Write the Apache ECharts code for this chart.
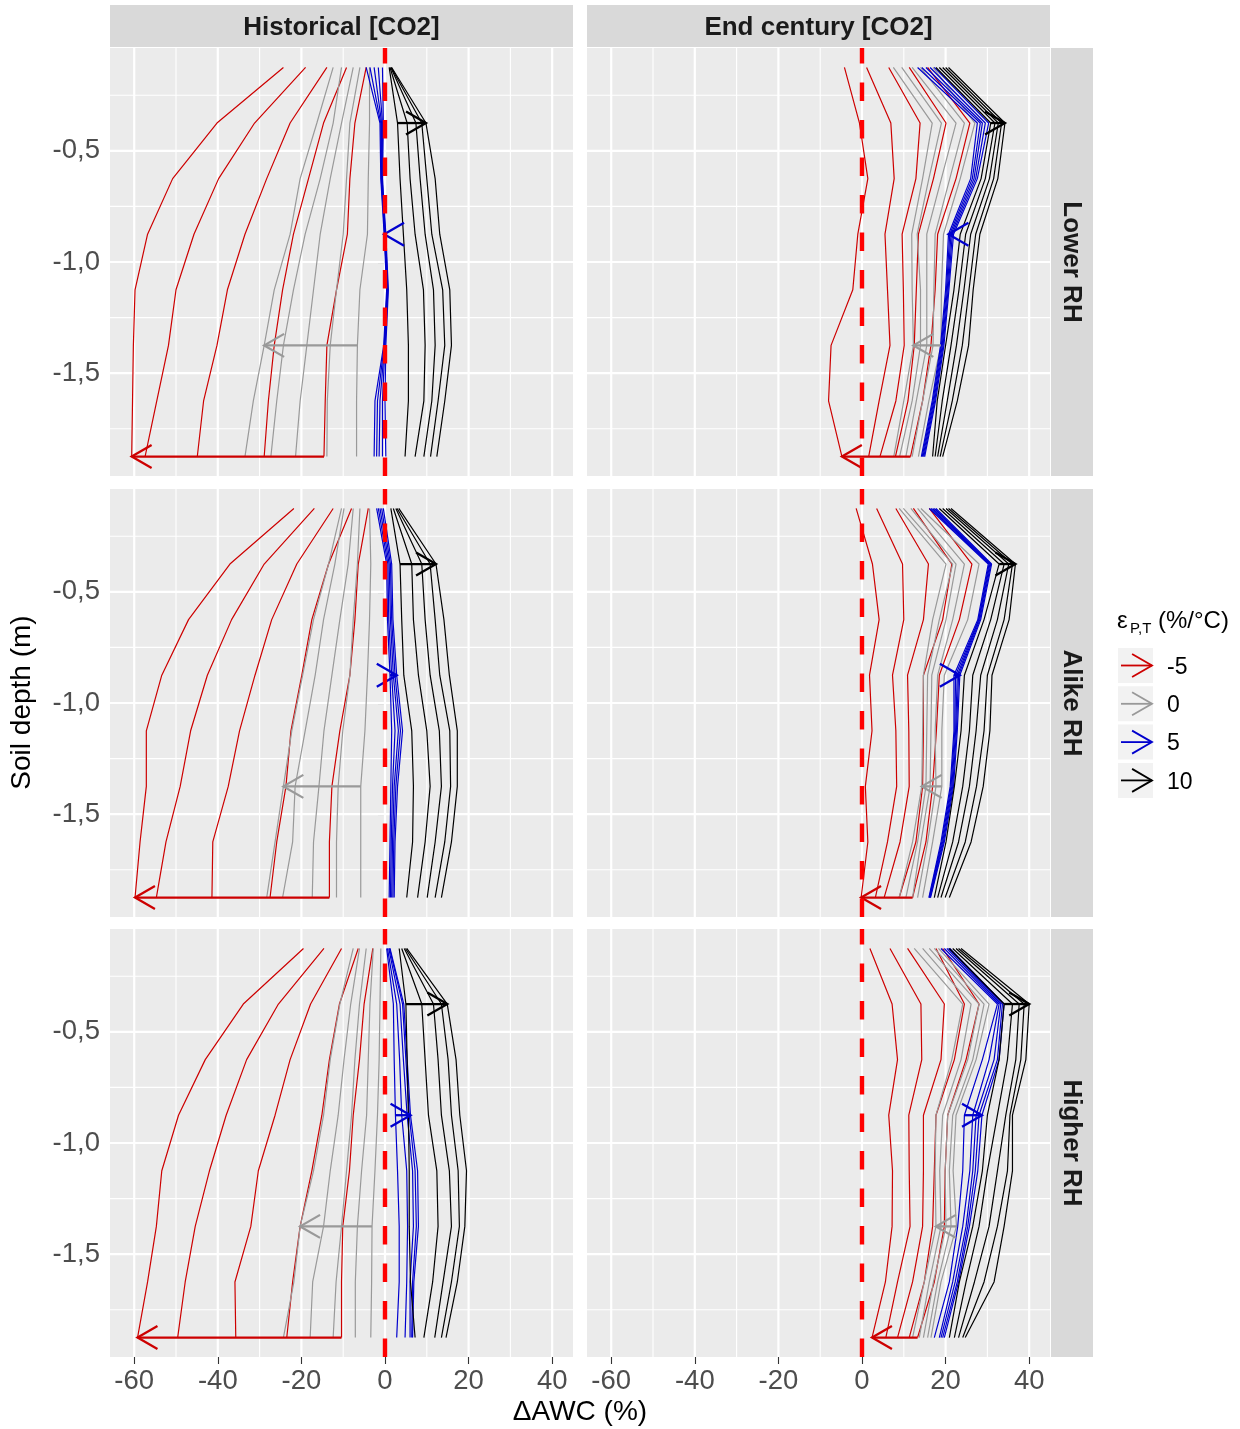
<!DOCTYPE html>
<html>
<head>
<meta charset="utf-8">
<script src="https://cdn.jsdelivr.net/npm/echarts@6.0.0/dist/echarts.min.js"></script>
<style>
html,body{margin:0;padding:0;background:#ffffff;}
#chart{width:1240px;height:1429px;}
</style>
</head>
<body>
<div id="chart"></div>
<script>
// ---------------- DATA ----------------
const depths = [-0.125, -0.375, -0.625, -0.875, -1.125, -1.375, -1.625, -1.875];
const colTitles = ['Historical [CO2]', 'End century [CO2]'];
const rowTitles = ['Lower RH', 'Alike RH', 'Higher RH'];
const legendLabels = ['-5', '0', '5', '10'];
const xTickValues = [-60, -40, -20, 0, 20, 40];
const yTickValues = [-1.5, -1.0, -0.5];
const xGridBreaks = [-60, -50, -40, -30, -20, -10, 0, 10, 20, 30, 40];
const yGridBreaks = [-0.25, -0.5, -0.75, -1.0, -1.25, -1.5, -1.75];
// depth index where each group's arrow is drawn (red, gray, blue, black)
const arrowDepthIndex = [7, 5, 3, 1];

// Each group: 5 profiles (values top -> bottom). Arrow goes from first to last profile.
// ---- Historical, Lower RH ----
const histLowerRed = [
  [-4.5, -7.2, -8.4, -9.0, -11.6, -13.9, -14.3, -14.6],
  [-9.2, -14.7, -18.3, -21.9, -24.5, -26.5, -27.9, -28.9],
  [-13.9, -22.7, -28.3, -33.5, -37.7, -40.2, -43.4, -44.9],
  [-19.0, -31.2, -39.8, -45.7, -50.0, -51.8, -54.6, -57.4],
  [-24.3, -40.2, -50.8, -56.8, -59.8, -60.2, -60.4, -60.6]
];
const histLowerGray = [
  [-3.7, -3.7, -4.0, -4.2, -6.0, -6.6, -6.8, -6.8],
  [-6.0, -8.4, -9.2, -10.0, -11.6, -13.1, -13.8, -13.9],
  [-7.6, -10.4, -13.1, -15.5, -17.1, -18.7, -20.3, -21.4],
  [-10.4, -12.4, -15.5, -19.1, -21.9, -24.3, -25.9, -27.3],
  [-12.4, -16.3, -20.3, -22.7, -26.5, -28.9, -31.5, -33.5]
];
const histLowerBlue = [
  [-0.6, -0.4, -0.6, 0.2, 0.8, 0.2, 0.0, 0.2],
  [-1.6, -0.6, -0.7, 0.1, 0.7, 0.0, -0.6, -0.6],
  [-2.6, -0.8, -0.8, 0.0, 0.6, -0.1, -1.2, -1.4],
  [-3.6, -1.0, -0.9, -0.1, 0.5, -0.2, -1.8, -2.0],
  [-4.5, -1.2, -1.0, -0.2, 0.4, -0.3, -2.4, -2.6]
];
const histLowerBlack = [
  [1.0, 3.0, 3.6, 4.4, 5.2, 5.6, 5.6, 4.8],
  [1.2, 5.3, 6.0, 7.2, 9.2, 9.6, 9.3, 7.2],
  [1.4, 7.4, 8.4, 9.6, 11.6, 12.0, 11.2, 9.3],
  [1.5, 8.8, 10.0, 11.2, 13.8, 14.3, 12.7, 10.9],
  [1.6, 9.8, 12.0, 13.1, 15.5, 15.9, 14.3, 12.4]
];
// ---- End century, Lower RH ----
const endLowerRed = [
  [15.7, 25.8, 22.5, 18.1, 17.5, 16.5, 14.5, 11.6],
  [11.3, 20.1, 17.1, 13.5, 13.0, 12.5, 11.0, 8.0],
  [6.4, 13.9, 12.9, 9.6, 9.9, 10.1, 8.1, 4.3],
  [1.1, 6.9, 7.7, 5.5, 6.1, 6.7, 4.1, 1.6],
  [-4.2, -0.6, 1.4, -1.0, -2.2, -7.4, -8.0, -4.8]
];
const endLowerGray = [
  [17.0, 27.0, 23.5, 19.5, 19.0, 18.9, 16.0, 13.5],
  [14.0, 24.5, 21.0, 17.5, 17.2, 17.0, 14.5, 12.0],
  [12.0, 22.5, 19.0, 15.5, 15.5, 15.5, 13.0, 10.5],
  [9.5, 19.0, 16.0, 13.2, 14.0, 14.0, 12.0, 9.0],
  [7.5, 16.8, 14.5, 11.9, 12.0, 12.3, 10.0, 7.6]
];
const endLowerBlue = [
  [17.3, 30.3, 27.6, 21.9, 20.8, 19.6, 17.6, 15.0],
  [16.3, 29.5, 27.2, 21.6, 20.6, 19.4, 17.4, 14.8],
  [15.3, 28.8, 26.8, 21.3, 20.4, 19.2, 17.2, 14.6],
  [14.3, 28.3, 26.4, 21.0, 20.2, 19.0, 17.0, 14.4],
  [13.3, 27.6, 26.0, 20.7, 20.0, 18.8, 16.8, 14.2]
];
const endLowerBlack = [
  [17.7, 30.8, 28.5, 23.5, 22.0, 20.0, 18.0, 16.9],
  [18.5, 31.8, 29.5, 24.8, 23.2, 21.3, 19.2, 17.5],
  [19.3, 32.6, 30.5, 26.0, 24.4, 22.6, 20.4, 18.1],
  [20.0, 33.4, 31.5, 27.2, 25.6, 24.0, 21.6, 18.7],
  [20.7, 34.2, 32.5, 28.2, 26.6, 25.5, 22.8, 19.3]
];
// ---- Historical, Alike RH ----
const histAlikeRed = [
  [-4.0, -6.4, -7.2, -8.4, -10.8, -12.7, -13.3, -13.3],
  [-8.0, -13.5, -17.5, -19.9, -22.5, -23.7, -25.9, -27.5],
  [-12.4, -21.1, -27.1, -31.1, -34.8, -37.5, -41.2, -41.4],
  [-16.9, -28.9, -36.7, -42.5, -46.5, -49.0, -52.4, -54.7],
  [-21.8, -37.1, -47.0, -53.4, -57.1, -57.1, -58.6, -59.8]
];
const histAlikeGray = [
  [-3.7, -3.4, -3.7, -4.2, -4.8, -5.8, -5.8, -5.8],
  [-6.0, -6.6, -7.6, -8.4, -10.1, -11.2, -11.6, -11.6],
  [-7.6, -8.8, -10.8, -12.7, -14.6, -15.8, -17.1, -17.4],
  [-9.8, -12.0, -14.7, -16.7, -19.1, -21.5, -22.1, -24.5],
  [-10.4, -13.5, -17.1, -19.7, -22.3, -24.3, -26.3, -28.3]
];
const histAlikeBlue = [
  [-2.0, 0.4, 0.6, 1.2, 1.6, 1.4, 1.2, 1.0],
  [-1.6, 0.7, 0.9, 1.6, 2.4, 1.8, 1.5, 1.3],
  [-1.2, 1.0, 1.3, 2.0, 3.2, 2.2, 1.8, 1.6],
  [-0.8, 1.3, 1.6, 2.4, 3.7, 2.6, 2.1, 1.9],
  [-0.4, 1.6, 1.9, 2.8, 4.2, 3.0, 2.4, 2.2]
];
const histAlikeBlack = [
  [1.4, 3.6, 4.0, 4.5, 6.4, 6.8, 6.6, 5.2],
  [2.0, 6.4, 6.8, 8.0, 10.0, 10.8, 9.6, 7.8],
  [2.6, 8.8, 9.6, 10.8, 13.0, 13.5, 12.0, 10.1],
  [2.9, 10.8, 12.0, 13.1, 15.5, 15.7, 14.3, 12.0],
  [3.3, 12.2, 14.1, 15.4, 17.3, 17.3, 15.9, 13.5]
];
// ---- End century, Alike RH ----
const endAlikeRed = [
  [16.1, 26.3, 23.3, 18.5, 17.8, 16.9, 15.3, 12.1],
  [12.3, 21.5, 19.3, 14.7, 14.7, 14.5, 12.9, 8.9],
  [8.1, 15.9, 14.7, 10.9, 11.2, 11.3, 9.1, 5.3],
  [3.5, 9.7, 10.0, 7.3, 8.1, 8.3, 6.1, 3.2],
  [-1.4, 2.5, 4.1, 1.8, 2.4, 0.8, 1.4, -0.2]
];
const endAlikeGray = [
  [14.1, 28.0, 25.3, 19.7, 19.1, 19.1, 16.9, 14.5],
  [13.3, 24.5, 21.7, 18.1, 17.5, 17.7, 15.7, 13.3],
  [11.7, 22.5, 20.1, 16.7, 16.5, 16.3, 14.1, 12.1],
  [9.9, 21.7, 18.5, 15.7, 15.5, 15.3, 13.3, 10.5],
  [8.9, 20.1, 16.9, 14.7, 14.5, 14.3, 12.1, 8.9]
];
const endAlikeBlue = [
  [16.1, 30.2, 27.7, 22.0, 22.0, 21.1, 18.9, 16.0],
  [16.5, 30.4, 27.9, 22.4, 22.2, 21.3, 19.1, 16.1],
  [16.9, 30.6, 28.0, 22.8, 22.4, 21.5, 19.3, 16.2],
  [17.3, 30.8, 28.2, 23.1, 22.6, 21.7, 19.5, 16.3],
  [17.7, 31.0, 28.4, 23.4, 22.8, 21.9, 19.7, 16.4]
];
const endAlikeBlack = [
  [18.5, 32.8, 29.2, 24.5, 23.7, 22.1, 20.1, 17.3],
  [19.3, 34.0, 30.8, 26.5, 25.7, 24.1, 21.7, 18.1],
  [20.1, 35.1, 32.4, 28.4, 27.3, 25.7, 23.1, 18.9],
  [20.7, 36.0, 34.0, 30.0, 29.2, 27.4, 24.7, 19.9],
  [21.3, 36.7, 35.2, 31.1, 30.6, 29.0, 26.1, 20.9]
];
// ---- Historical, Higher RH ----
const histHigherRed = [
  [-2.9, -5.0, -6.1, -7.6, -8.5, -10.1, -10.4, -10.4],
  [-6.4, -10.9, -13.3, -15.1, -17.5, -20.3, -22.1, -23.5],
  [-10.4, -17.8, -22.7, -26.3, -30.3, -32.1, -35.9, -35.7],
  [-14.6, -25.5, -33.1, -38.0, -42.0, -45.4, -47.8, -49.6],
  [-19.5, -33.9, -43.0, -49.4, -53.4, -54.7, -56.8, -59.2]
];
const histHigherGray = [
  [-1.0, -1.2, -1.4, -1.8, -2.4, -3.1, -3.2, -3.4],
  [-2.8, -3.6, -4.0, -4.4, -5.6, -6.6, -7.1, -7.1],
  [-4.5, -6.1, -7.2, -8.0, -9.2, -10.4, -11.7, -12.4],
  [-6.1, -8.2, -9.8, -11.2, -13.1, -14.7, -17.3, -17.9],
  [-7.6, -10.8, -13.1, -14.7, -17.1, -20.3, -21.8, -24.3]
];
const histHigherBlue = [
  [0.4, 2.0, 2.2, 2.5, 3.0, 3.4, 3.4, 2.8],
  [0.6, 2.8, 3.5, 4.0, 5.2, 5.4, 5.2, 4.8],
  [0.9, 3.6, 4.4, 5.3, 6.6, 6.8, 6.0, 6.0],
  [1.1, 4.2, 5.0, 5.8, 7.2, 7.5, 6.6, 6.4],
  [1.2, 4.5, 5.3, 6.1, 7.8, 8.0, 6.9, 6.6]
];
const histHigherBlack = [
  [3.4, 5.0, 5.3, 5.6, 5.8, 5.8, 6.1, 7.2],
  [4.0, 8.8, 9.6, 10.4, 12.4, 12.7, 11.4, 9.3],
  [4.6, 11.6, 12.7, 13.5, 15.4, 15.9, 13.9, 11.9],
  [4.9, 13.5, 15.1, 15.9, 17.5, 17.8, 15.9, 13.5],
  [5.2, 14.9, 17.0, 17.9, 19.5, 19.1, 17.3, 14.6]
];
// ---- End century, Higher RH ----
const endHigherRed = [
  [19.3, 28.0, 24.9, 20.5, 19.9, 19.7, 17.3, 13.3],
  [17.7, 24.5, 22.1, 17.7, 17.3, 16.9, 14.9, 11.3],
  [10.9, 19.7, 18.9, 14.7, 14.7, 14.5, 12.1, 8.5],
  [6.7, 14.1, 14.3, 11.2, 11.3, 11.5, 8.5, 5.7],
  [1.9, 7.2, 8.5, 6.4, 7.3, 7.2, 5.6, 2.4]
];
const endHigherGray = [
  [18.3, 30.4, 27.3, 22.5, 21.8, 22.6, 18.9, 16.5],
  [17.3, 29.2, 26.5, 21.7, 20.9, 21.3, 18.1, 15.7],
  [16.1, 28.0, 25.3, 20.5, 19.9, 20.1, 17.1, 14.7],
  [14.5, 26.1, 23.7, 19.3, 18.6, 18.9, 16.1, 13.7],
  [12.5, 24.1, 21.5, 17.7, 17.5, 17.7, 14.9, 12.1]
];
const endHigherBlue = [
  [18.9, 32.4, 28.8, 24.5, 24.1, 22.9, 20.9, 17.3],
  [19.7, 32.8, 30.4, 26.5, 25.8, 24.1, 21.7, 18.5],
  [20.3, 33.2, 31.6, 27.3, 26.5, 24.9, 22.3, 18.9],
  [20.7, 33.6, 32.4, 28.0, 27.1, 25.3, 22.8, 19.3],
  [21.0, 34.0, 32.8, 28.7, 27.7, 25.7, 23.1, 19.7]
];
const endHigherBlack = [
  [20.9, 34.0, 32.8, 30.0, 28.8, 26.5, 23.3, 20.9],
  [21.7, 36.0, 34.8, 32.4, 30.0, 28.0, 24.9, 22.1],
  [22.5, 37.6, 36.8, 34.4, 32.4, 30.4, 26.9, 23.1],
  [23.1, 38.8, 38.0, 35.4, 34.8, 32.4, 29.2, 24.1],
  [23.7, 40.0, 39.2, 36.0, 36.0, 34.0, 31.6, 24.7]
];

// ---------------- LAYOUT / STYLE ----------------
const panels = [
  {row: 0, col: 0, groups: [histLowerRed, histLowerGray, histLowerBlue, histLowerBlack]},
  {row: 0, col: 1, groups: [endLowerRed, endLowerGray, endLowerBlue, endLowerBlack]},
  {row: 1, col: 0, groups: [histAlikeRed, histAlikeGray, histAlikeBlue, histAlikeBlack]},
  {row: 1, col: 1, groups: [endAlikeRed, endAlikeGray, endAlikeBlue, endAlikeBlack]},
  {row: 2, col: 0, groups: [histHigherRed, histHigherGray, histHigherBlue, histHigherBlack]},
  {row: 2, col: 1, groups: [endHigherRed, endHigherGray, endHigherBlue, endHigherBlack]}
];
const COLORS = ['#CD0000', '#999999', '#0000CD', '#000000'];
const FONT = '"Liberation Sans", Arial, Helvetica, sans-serif';
const X_MIN = -65.79, X_MAX = 44.98, Y_MIN = -1.9625, Y_MAX = -0.0375;
const COL_LEFT = [110, 587], ROW_TOP = [48, 489, 929], PW = 463, PH = 428;
const STRIP = 42;

function renderGrid(params, api) {
  const v = api.value(0), o = api.value(1), major = api.value(2);
  const cs = params.coordSys;
  let shape;
  if (o === 0) {
    const p = api.coord([v, Y_MIN]);
    shape = {x1: p[0], y1: cs.y, x2: p[0], y2: cs.y + cs.height};
  } else {
    const p = api.coord([X_MIN, v]);
    shape = {x1: cs.x, y1: p[1], x2: cs.x + cs.width, y2: p[1]};
  }
  return {type: 'line', shape: shape, style: {stroke: '#FFFFFF', lineWidth: major ? 2.2 : 1.1}};
}

function arrowShapes(p0, p1, color, width, L) {
  let dir = p1[0] - p0[0] >= 0 ? 1 : -1;
  const ang = Math.PI / 6;
  const bx = p1[0] - dir * L * Math.cos(ang);
  return [
    {type: 'line', shape: {x1: p0[0], y1: p0[1], x2: p1[0], y2: p1[1]}, style: {stroke: color, lineWidth: width}},
    {type: 'polyline', shape: {points: [[bx, p1[1] - L * Math.sin(ang)], p1, [bx, p1[1] + L * Math.sin(ang)]]},
     style: {stroke: color, lineWidth: width, fill: null, lineJoin: 'miter'}}
  ];
}

function renderArrow(params, api) {
  const d = api.value(2);
  const p0 = api.coord([api.value(0), d]);
  const p1 = api.coord([api.value(1), d]);
  const color = COLORS[api.value(3)];
  return {type: 'group', children: arrowShapes(p0, p1, color, 2.3, 23)};
}

const grids = [], xAxes = [], yAxes = [], series = [];
const gridData = xGridBreaks.map(v => [v, 0, v % 20 === 0 ? 1 : 0])
  .concat(yGridBreaks.map(v => [v, 1, Math.abs(v * 2 - Math.round(v * 2)) < 1e-9 ? 1 : 0]));

panels.forEach((p, i) => {
  grids.push({left: COL_LEFT[p.col], top: ROW_TOP[p.row], width: PW, height: PH,
    show: true, backgroundColor: '#EBEBEB', borderWidth: 0, containLabel: false, outerBoundsMode: 'none'});
  const bottomRow = p.row === 2, leftCol = p.col === 0;
  xAxes.push({gridIndex: i, type: 'value', min: X_MIN, max: X_MAX,
    axisLine: {show: false}, splitLine: {show: false},
    axisTick: {show: bottomRow, length: 7, customValues: xTickValues, lineStyle: {color: '#333333', width: 1.1}},
    axisLabel: {show: bottomRow, customValues: xTickValues, margin: 10, color: '#4D4D4D', fontSize: 27.5, fontFamily: FONT}
  });
  yAxes.push({gridIndex: i, type: 'value', min: Y_MIN, max: Y_MAX,
    axisLine: {show: false}, splitLine: {show: false},
    axisTick: {show: leftCol, length: 7, customValues: yTickValues, lineStyle: {color: '#333333', width: 1.1}},
    axisLabel: {show: leftCol, customValues: yTickValues, margin: 10, color: '#4D4D4D', fontSize: 27.5, fontFamily: FONT,
      padding: [4, 0, 0, 0],
      formatter: v => v.toFixed(1).replace('.', ',')}
  });
  series.push({type: 'custom', xAxisIndex: i, yAxisIndex: i, data: gridData, renderItem: renderGrid,
    silent: true, z: 1, animation: false});
  p.groups.forEach((g, gi) => {
    g.forEach(line => {
      series.push({type: 'line', xAxisIndex: i, yAxisIndex: i,
        data: line.map((v, k) => [v, depths[k]]),
        symbol: 'none', showSymbol: false, silent: true, animation: false, z: 2,
        lineStyle: {color: COLORS[gi], width: 1.2}});
    });
  });
  const arrows = p.groups.map((g, gi) => {
    const k = arrowDepthIndex[gi];
    return [g[0][k], g[4][k], depths[k], gi];
  });
  series.push({type: 'custom', xAxisIndex: i, yAxisIndex: i, data: arrows, renderItem: renderArrow,
    encode: {x: [0, 1], y: 2}, silent: true, z: 3, animation: false});
  series.push({type: 'line', xAxisIndex: i, yAxisIndex: i, data: [[0, Y_MIN], [0, Y_MAX]],
    symbol: 'none', silent: true, animation: false, z: 4,
    lineStyle: {color: '#FF0000', width: 4.4, type: [18.5, 19]}});
});

// strips, titles and legend
const graphic = [];
colTitles.forEach((t, c) => {
  graphic.push({type: 'rect', shape: {x: COL_LEFT[c], y: ROW_TOP[0] - STRIP - 1, width: PW, height: STRIP}, style: {fill: '#D9D9D9'}, silent: true});
  graphic.push({type: 'text', x: COL_LEFT[c] + PW / 2, y: ROW_TOP[0] - STRIP / 2 + 1,
    style: {text: t, textAlign: 'center', textVerticalAlign: 'middle', align: 'center', verticalAlign: 'middle',
      font: 'bold 26px ' + FONT, fill: '#1A1A1A'}, silent: true});
});
rowTitles.forEach((t, r) => {
  const sx = COL_LEFT[1] + PW + 1;
  graphic.push({type: 'rect', shape: {x: sx, y: ROW_TOP[r], width: STRIP, height: PH}, style: {fill: '#D9D9D9'}, silent: true});
  graphic.push({type: 'text', x: sx + STRIP / 2 - 1, y: ROW_TOP[r] + PH / 2, rotation: -Math.PI / 2,
    style: {text: t, textAlign: 'center', textVerticalAlign: 'middle', align: 'center', verticalAlign: 'middle',
      font: 'bold 26px ' + FONT, fill: '#1A1A1A'}, silent: true});
});
graphic.push({type: 'text', x: (COL_LEFT[0] + COL_LEFT[1] + PW) / 2, y: 1412,
  style: {text: 'ΔAWC (%)', textAlign: 'center', textVerticalAlign: 'middle', align: 'center', verticalAlign: 'middle',
    font: '28px ' + FONT, fill: '#000000'}, silent: true});
graphic.push({type: 'text', x: 22, y: (ROW_TOP[0] + ROW_TOP[2] + PH) / 2, rotation: Math.PI / 2,
  style: {text: 'Soil depth (m)', textAlign: 'center', textVerticalAlign: 'middle', align: 'center', verticalAlign: 'middle',
    font: '28px ' + FONT, fill: '#000000'}, silent: true});
// legend title
graphic.push({type: 'text', x: 1117, y: 621, style: {text: 'ε', textAlign: 'left', textVerticalAlign: 'middle', align: 'left', verticalAlign: 'middle', font: '24px ' + FONT, fill: '#000'}, silent: true});
graphic.push({type: 'text', x: 1130, y: 629, style: {text: 'P,T', textAlign: 'left', textVerticalAlign: 'middle', align: 'left', verticalAlign: 'middle', font: '15px ' + FONT, fill: '#000'}, silent: true});
graphic.push({type: 'text', x: 1158, y: 621, style: {text: '(%/°C)', textAlign: 'left', textVerticalAlign: 'middle', align: 'left', verticalAlign: 'middle', font: '24px ' + FONT, fill: '#000'}, silent: true});
legendLabels.forEach((lab, k) => {
  const ky = 648 + k * 38.3;
  graphic.push({type: 'rect', shape: {x: 1118, y: ky, width: 35, height: 35}, style: {fill: '#F2F2F2'}, silent: true});
  const cy = ky + 17.5;
  graphic.push({type: 'group', children: arrowShapes([1121, cy], [1152, cy], COLORS[k], 1.8, 23), silent: true});
  graphic.push({type: 'text', x: 1167, y: cy + 2, style: {text: lab, textAlign: 'left', textVerticalAlign: 'middle', align: 'left', verticalAlign: 'middle', font: '23px ' + FONT, fill: '#000'}, silent: true});
});

const chart = echarts.init(document.getElementById('chart'), null, {renderer: 'canvas'});
chart.setOption({
  animation: false,
  backgroundColor: '#FFFFFF',
  grid: grids,
  xAxis: xAxes,
  yAxis: yAxes,
  series: series,
  graphic: graphic
});
</script>
</body>
</html>
